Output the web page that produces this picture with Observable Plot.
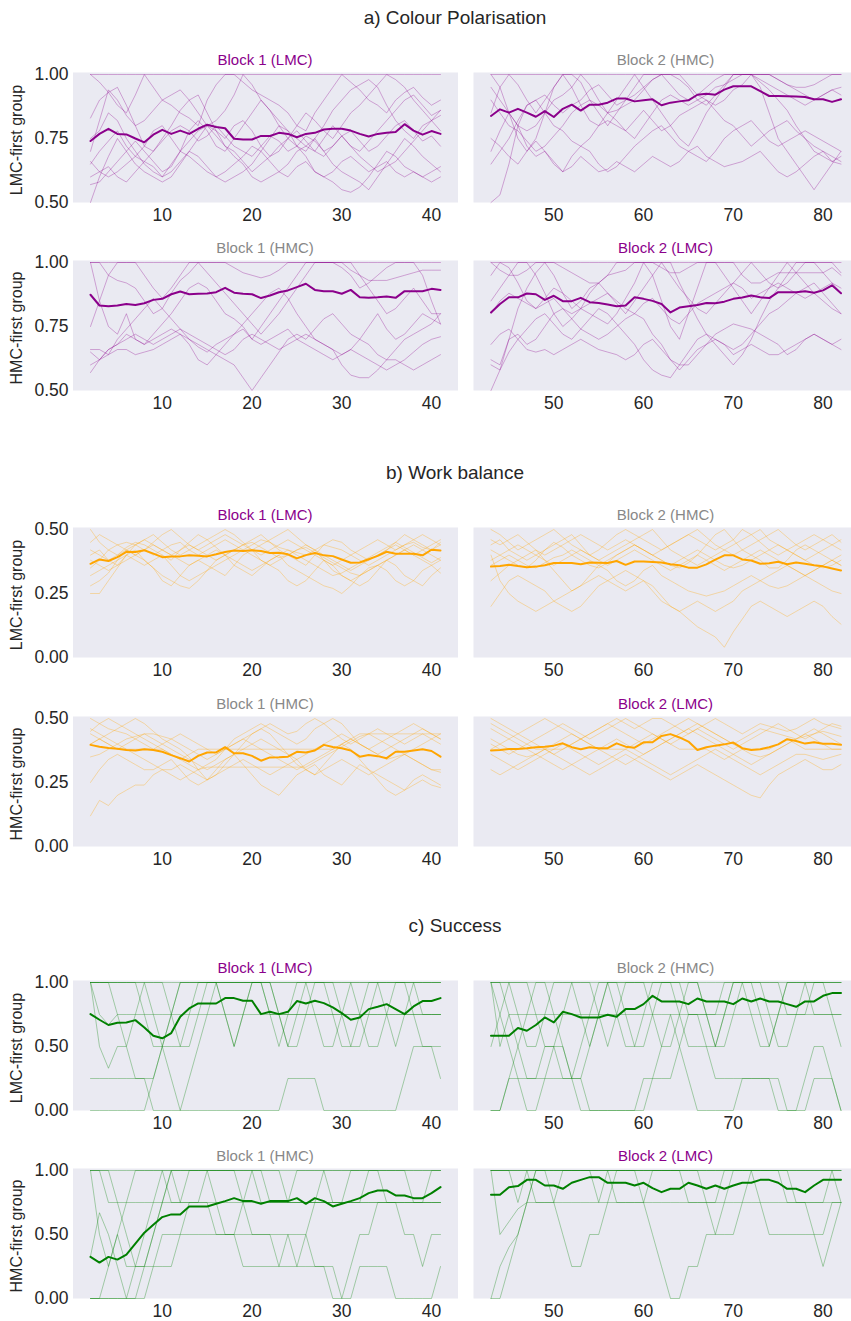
<!DOCTYPE html>
<html><head><meta charset="utf-8">
<script src="https://cdn.jsdelivr.net/npm/d3@7"></script>
<script src="https://cdn.jsdelivr.net/npm/@observablehq/plot@0.6"></script>
<style>
html,body{margin:0;padding:0;background:#fff;overflow:hidden;}
#fig{position:relative;width:851px;height:1321px;overflow:hidden;font-family:"Liberation Sans",Arial,sans-serif;color:#262626;}
.lbl{position:absolute;white-space:nowrap;transform:translate(-50%,-50%);line-height:1;}
.panel{position:absolute;}
</style></head><body><div id="fig"></div>
<script>
// ---------- categories / ticks ----------
const sectionTitles = ["a) Colour Polarisation", "b) Work balance", "c) Success"];
const groupLabels = ["LMC-first group", "HMC-first group"];
const panelTitles = [["Block 1 (LMC)", "Block 2 (HMC)"], ["Block 1 (HMC)", "Block 2 (LMC)"]];
const xTicksBlock1 = [10, 20, 30, 40];
const xTicksBlock2 = [50, 60, 70, 80];
const yTicksPol = [0.5, 0.75, 1];
const yTicksWork = [0, 0.25, 0.5];
const yTicksSucc = [0, 0.5, 1];
const roundsBlock1 = d3.range(2, 42);
const roundsBlock2 = d3.range(43, 83);

// ---------- a) Colour polarisation ----------
const polMeanLmcB1 = [.74,.768,.788,.768,.766,.75,.735,.765,.784,.768, .781,.768,.788,.804,.795,.79,.749,.746,.746,.76, .76,.772,.768,.755,.768,.772,.785,.788,.788,.781, .768,.758,.768,.772,.775,.806,.781,.765,.779,.768];
const polThinLmcB1 = [
[1,1,1,1,1,1,1,1,1,1, 1,1,1,1,1,1,1,1,1,1, 1,1,1,1,1,1,1,1,1,1, 1,1,1,1,1,1,1,1,1,1],
[1,.97,.93,.88,.85,.92,1,.95,.9,.88, .85,.83,.8,.9,.96,1,1,.97,.94,.92, .9,.88,.85,.8,.78,.85,.9,.95,1,.97, .94,.9,.88,.85,.9,.93,.95,.91,.88,.9],
[.83,.9,.93,.95,.88,.8,.72,.7,.75,.8, .86,.9,.92,.85,.78,.75,.8,.82,.78,.72, .68,.7,.75,.8,.85,.82,.78,.75,.8,.85, .88,.92,.96,1,.98,.95,.9,.86,.82,.84],
[.5,.6,.68,.75,.7,.65,.62,.6,.58,.6, .65,.7,.75,.8,.78,.72,.68,.65,.6,.58, .6,.62,.65,.7,.72,.75,.7,.65,.62,.6, .58,.55,.6,.65,.7,.75,.72,.68,.65,.62],
[.66,.62,.6,.62,.65,.68,.72,.78,.8,.75, .7,.68,.65,.62,.6,.58,.6,.62,.65,.7, .75,.8,.78,.72,.68,.62,.6,.58,.55,.54, .56,.6,.65,.7,.68,.64,.62,.6,.62,.64],
[.75,.78,.85,.82,.75,.7,.65,.62,.6,.65, .7,.78,.82,.78,.72,.7,.75,.8,.85,.9, .86,.8,.75,.72,.7,.75,.8,.86,.9,.94, .96,.98,.95,.88,.82,.78,.75,.8,.82,.78],
[.57,.58,.62,.66,.7,.74,.7,.66,.62,.64, .7,.74,.78,.8,.76,.72,.7,.66,.62,.65, .68,.72,.75,.78,.74,.7,.68,.72,.76,.72, .68,.65,.62,.64,.66,.7,.74,.78,.82,.86],
[.7,.82,.94,.9,.84,.8,.82,.86,.9,.92, .94,.9,.85,.8,.82,.86,.92,1,.96,.9, .86,.82,.78,.75,.72,.7,.75,.8,.76,.72, .7,.74,.78,.82,.86,.9,.92,.88,.84,.86],
[.6,.62,.64,.6,.58,.62,.66,.64,.6,.62, .66,.7,.68,.64,.6,.62,.65,.68,.72,.7, .66,.62,.6,.64,.66,.62,.6,.62,.66,.68, .65,.62,.64,.66,.62,.6,.62,.6,.58,.6],
[.65,.7,.74,.78,.72,.68,.66,.7,.74,.78, .8,.78,.74,.76,.8,.76,.72,.7,.68,.72, .76,.74,.7,.72,.76,.74,.7,.72,.76,.78, .74,.7,.72,.76,.8,.82,.78,.74,.76,.72]
];
const polMeanLmcB2 = [.838,.864,.851,.866,.851,.835,.857,.834,.866,.882, .859,.882,.882,.89,.906,.906,.895,.899,.903,.88, .89,.895,.899,.921,.925,.921,.941,.954,.954,.954, .935,.916,.916,.915,.914,.912,.903,.903,.893,.903];
const polThinLmcB2 = [
[1,1,1,1,1,1,1,1,1,1, 1,1,1,1,1,1,1,1,1,1, 1,1,1,1,1,1,1,1,1,1, 1,1,1,1,1,1,1,1,1,1],
[1,.95,.85,.75,.7,.75,.85,.95,1,1, .97,.9,.85,.8,.85,.9,.95,1,1,1, 1,.98,.95,.9,.88,.92,.96,1,1,1, 1,1,.98,.96,.95,.95,.96,.98,1,1],
[.9,.85,.8,.78,.74,.7,.72,.76,.8,.85, .88,.9,.88,.85,.82,.78,.75,.8,.85,.9, .92,.9,.88,.9,.92,.95,.96,.98,1,1, .98,.96,.94,.92,.9,.88,.9,.92,.94,.92],
[.5,.53,.65,.8,.88,.9,.92,.88,.85,.88, .9,.94,.96,.92,.88,.9,.92,.95,.98,1, .96,.92,.9,.92,.95,.98,1,1,1,1, .97,.94,.9,.86,.8,.75,.7,.68,.66,.65],
[.7,.78,.85,.8,.72,.68,.7,.65,.62,.68, .72,.7,.65,.62,.64,.68,.72,.75,.78,.8, .76,.72,.7,.68,.66,.7,.75,.78,.8,.82, .78,.74,.72,.74,.76,.78,.76,.74,.72,.7],
[.75,.72,.68,.65,.7,.74,.7,.66,.62,.64, .68,.65,.62,.63,.66,.64,.62,.65,.68,.66, .64,.66,.7,.72,.68,.66,.64,.65,.66,.68, .7,.66,.62,.6,.62,.65,.68,.7,.66,.68],
[.85,.95,1,.96,.9,.85,.9,.95,1,.95, .88,.82,.8,.85,.9,.95,1,.95,.9,.85, .8,.75,.72,.78,.85,.9,.95,1,1,1, .95,.85,.75,.7,.65,.6,.55,.6,.65,.7],
[.95,.9,.85,.8,.78,.8,.85,.9,.92,.95, 1,.96,.9,.85,.86,.88,.9,.94,.98,1, 1,1,.96,.92,.9,.88,.9,.94,.96,1, 1,1,.98,.96,.94,.92,.9,.92,.94,.95],
[.65,.7,.75,.82,.88,.9,.85,.8,.78,.74, .72,.75,.8,.82,.8,.78,.82,.86,.82,.78, .8,.84,.86,.88,.9,.86,.82,.8,.76,.72, .75,.78,.8,.82,.78,.75,.72,.7,.68,.66]
];
const polMeanHmcB1 = [.874,.832,.829,.832,.838,.834,.841,.854,.858,.876, .887,.876,.878,.879,.884,.901,.882,.878,.876,.861, .871,.884,.891,.904,.917,.893,.888,.888,.878,.893, .864,.862,.864,.867,.862,.888,.888,.888,.897,.893];
const polThinHmcB1 = [
[1,1,1,1,1,1,1,1,1,1, 1,1,1,1,1,1,1,1,1,1, 1,1,1,1,1,1,1,1,1,1, 1,1,1,1,1,1,1,1,1,1],
[1,1,.95,.93,.92,.9,.85,.8,.82,.88, .93,.96,1,1,1,1,.98,.96,.95,.94, .95,.97,1,1,1,1,1,1,1,.97, .95,.93,.93,.93,.94,.95,.96,.97,.97,.97],
[1,.85,.75,.72,.8,.7,.68,.72,.76,.8, .85,.9,.92,.9,.85,.8,.78,.75,.7,.75, .8,.85,.9,.95,1,1,1,1,.98,.95, .9,.92,.95,.98,1,1,1,.95,.85,.76],
[.66,.66,.64,.7,.74,.78,.82,.86,.82,.78, .74,.7,.68,.66,.64,.62,.6,.55,.5,.55, .6,.65,.7,.72,.7,.74,.78,.8,.76,.72, .7,.68,.64,.62,.62,.6,.58,.6,.62,.64],
[.57,.62,.66,.68,.7,.72,.7,.68,.7,.72, .74,.72,.7,.68,.66,.64,.66,.7,.72,.7, .68,.66,.68,.7,.72,.7,.68,.66,.6,.56, .55,.55,.58,.62,.66,.7,.72,.74,.76,.8],
[.6,.62,.66,.68,.72,.7,.68,.7,.72,.74, .72,.7,.67,.65,.68,.7,.72,.74,.7,.68, .7,.72,.74,.7,.68,.66,.64,.62,.64,.66, .64,.62,.6,.58,.6,.62,.65,.68,.7,.71],
[.65,.62,.64,.66,.66,.64,.65,.66,.68,.7, .72,.68,.62,.6,.64,.68,.72,.76,.8,.84, .88,.9,.86,.8,.75,.7,.68,.66,.64,.66, .7,.75,.8,.74,.7,.72,.76,.8,.78,.76],
[.75,.85,.95,1,1,1,.95,.9,.86,.9, .95,1,1,.96,.92,.88,.84,.8,.76,.72, .76,.8,.85,.9,.95,1,1,1,1,1, .95,.9,.85,.8,.82,.86,.9,.85,.8,.8]
];
const polMeanHmcB2 = [.805,.838,.864,.864,.879,.876,.854,.87,.849,.849, .862,.845,.842,.836,.829,.832,.864,.858,.85,.838, .805,.824,.829,.834,.842,.841,.847,.858,.863,.871, .864,.861,.884,.884,.884,.888,.882,.891,.911,.88];
const polThinHmcB2 = [
[1,1,1,1,1,1,1,1,1,1, 1,1,1,1,1,1,1,1,1,1, 1,1,1,1,1,1,1,1,1,1, 1,1,1,1,1,1,1,1,1,1],
[1,.97,.95,.95,.97,1,1,1,.98,.96, .94,.92,.92,.95,1,1,1,1,1,.98, .96,.96,.98,1,1,1,1,1,.95,.92, .92,.94,.96,.96,.96,.96,.96,.96,.98,.95],
[.85,.9,.95,1,1,.95,.88,.8,.75,.78, .82,.88,.92,.95,.96,.97,1,1,.95,.85, .75,.7,.8,.9,1,1,.95,.9,.85,.8, .85,.9,.95,1,.96,.92,.88,.85,.82,.8],
[.6,.58,.7,.72,.68,.7,.75,.8,.82,.78, .74,.72,.7,.72,.75,.78,.8,.78,.72,.68, .62,.6,.6,.64,.68,.72,.74,.76,.75,.74, .72,.7,.68,.64,.66,.7,.72,.7,.68,.7],
[.5,.58,.65,.7,.74,.78,.8,.76,.72,.7, .74,.78,.82,.8,.76,.72,.68,.62,.58,.56, .55,.6,.65,.7,.72,.7,.68,.66,.68,.72, .76,.8,.82,.85,.88,.9,.92,.88,.84,.8],
[.68,.72,.74,.7,.66,.65,.66,.64,.66,.68, .7,.68,.66,.65,.64,.62,.64,.68,.7,.66, .62,.58,.62,.66,.68,.7,.68,.64,.66,.68, .66,.64,.64,.66,.68,.7,.72,.7,.68,.66],
[.62,.6,.7,.82,.9,.96,1,.95,.88,.82, .85,.9,.92,.88,.84,.8,.85,.9,.95,1, 1,.92,.85,.78,.72,.68,.64,.6,.64,.7, .78,.85,.9,.95,1,1,1,.96,.92,.88],
[.95,1,.98,.92,.85,.82,.86,.9,.88,.85, .82,.8,.78,.76,.8,.86,.92,1,1,1, .95,.9,.86,.82,.8,.84,.88,.92,.96,1, .96,.92,.9,.92,.96,1,1,1,1,.96],
[.8,.85,.88,.86,.84,.82,.84,.86,.82,.8, .82,.84,.86,.88,.85,.82,.8,.84,.86,.82, .78,.76,.8,.84,.86,.88,.9,.92,.9,.86, .88,.9,.92,.9,.88,.86,.88,.9,.92,.9]
];

// ---------- b) Work balance ----------
const workMeanLmcB1 = [.366,.383,.377,.392,.413,.412,.419,.406,.392,.395, .395,.399,.397,.395,.403,.412,.418,.416,.419,.416, .408,.409,.403,.387,.4,.408,.399,.396,.383,.37, .371,.384,.397,.413,.405,.405,.405,.399,.421,.418];
const workThinLmcB1 = [
[.5,.45,.42,.4,.43,.45,.44,.42,.4,.38, .42,.45,.48,.46,.43,.4,.42,.44,.46,.48, .45,.42,.4,.38,.36,.4,.44,.46,.45,.42, .4,.38,.4,.42,.45,.48,.46,.44,.42,.45],
[.25,.25,.3,.35,.4,.42,.38,.35,.3,.28, .32,.36,.38,.36,.34,.32,.36,.4,.42,.38, .36,.34,.3,.28,.3,.34,.38,.36,.32,.3, .28,.3,.34,.38,.36,.32,.3,.28,.32,.35],
[.35,.38,.42,.44,.45,.44,.42,.4,.42,.44, .45,.42,.4,.42,.44,.46,.44,.42,.44,.46, .45,.43,.42,.41,.4,.42,.44,.43,.42,.4, .38,.36,.38,.4,.42,.44,.45,.43,.42,.44],
[.28,.3,.33,.38,.42,.4,.38,.35,.32,.3, .28,.27,.3,.34,.38,.4,.36,.34,.32,.35, .38,.4,.36,.34,.32,.3,.28,.27,.25,.28, .32,.35,.36,.34,.3,.28,.3,.34,.36,.33],
[.4,.42,.38,.36,.4,.44,.46,.48,.45,.42, .4,.42,.44,.46,.48,.5,.48,.45,.42,.44, .46,.48,.5,.47,.44,.42,.4,.38,.36,.34, .36,.38,.4,.42,.44,.42,.4,.42,.44,.46],
[.38,.36,.34,.36,.38,.4,.42,.44,.42,.4, .38,.36,.38,.4,.42,.4,.38,.36,.34,.36, .38,.4,.42,.4,.38,.36,.34,.32,.33,.35, .37,.39,.41,.43,.45,.43,.41,.39,.37,.39],
[.45,.48,.46,.44,.42,.4,.42,.45,.48,.5, .47,.44,.42,.44,.46,.48,.46,.44,.42,.4, .42,.44,.46,.44,.42,.4,.38,.36,.38,.4, .42,.44,.46,.44,.42,.44,.46,.48,.46,.44],
[.32,.34,.36,.38,.4,.38,.36,.38,.4,.36, .32,.3,.32,.34,.36,.38,.4,.42,.4,.38, .36,.38,.4,.42,.44,.42,.38,.34,.32,.3, .32,.34,.36,.38,.4,.42,.44,.42,.4,.38],
[.42,.4,.38,.4,.42,.44,.46,.44,.42,.4, .42,.44,.42,.4,.38,.4,.42,.44,.45,.43, .41,.39,.4,.42,.43,.41,.39,.37,.35,.33, .32,.34,.36,.38,.4,.42,.4,.38,.36,.38]
];
const workMeanLmcB2 = [.355,.357,.362,.357,.353,.355,.36,.369,.369,.369, .364,.371,.37,.369,.377,.362,.375,.375,.373,.371, .364,.36,.351,.351,.364,.382,.399,.399,.383,.379, .366,.368,.374,.364,.371,.366,.36,.356,.348,.34];
const workThinLmcB2 = [
[.5,.48,.45,.42,.44,.46,.48,.5,.47,.44, .42,.4,.42,.45,.48,.5,.48,.46,.44,.42, .44,.46,.48,.5,.47,.44,.42,.4,.42,.44, .46,.48,.5,.47,.44,.42,.44,.46,.48,.45],
[.42,.4,.38,.36,.35,.38,.42,.45,.43,.4, .38,.36,.35,.37,.4,.42,.44,.42,.4,.38, .36,.35,.37,.4,.44,.48,.5,.46,.42,.4, .38,.35,.35,.38,.42,.44,.42,.4,.38,.36],
[.2,.25,.3,.32,.3,.28,.26,.22,.2,.18, .2,.24,.28,.3,.32,.34,.32,.3,.28,.24, .2,.18,.15,.12,.1,.08,.04,.1,.15,.2, .22,.2,.18,.16,.18,.2,.22,.2,.16,.13],
[.3,.33,.36,.38,.4,.42,.38,.34,.3,.26, .28,.32,.36,.34,.3,.28,.3,.34,.36,.32, .3,.28,.26,.25,.24,.25,.26,.28,.3,.32, .3,.28,.27,.28,.3,.32,.34,.36,.38,.4],
[.38,.4,.42,.44,.42,.4,.38,.36,.38,.4, .42,.4,.38,.36,.38,.4,.42,.4,.38,.36, .34,.36,.38,.4,.38,.36,.34,.36,.38,.4, .42,.4,.38,.36,.34,.32,.34,.36,.38,.36],
[.4,.3,.25,.22,.2,.18,.2,.22,.24,.26, .28,.3,.32,.3,.28,.26,.28,.3,.26,.22, .2,.18,.2,.22,.2,.18,.2,.22,.26,.28, .3,.32,.34,.36,.34,.32,.3,.28,.26,.25],
[.46,.44,.46,.48,.45,.42,.4,.42,.44,.46, .48,.46,.44,.42,.44,.46,.44,.42,.4,.42, .44,.46,.48,.46,.44,.42,.44,.46,.5,.48, .45,.42,.4,.42,.44,.46,.48,.46,.44,.42],
[.36,.38,.4,.38,.36,.35,.37,.39,.4,.42, .4,.38,.36,.38,.4,.42,.44,.42,.4,.38, .36,.38,.4,.42,.4,.38,.36,.35,.36,.38, .4,.42,.44,.42,.4,.38,.36,.35,.36,.38],
[.44,.46,.42,.4,.38,.4,.42,.44,.46,.48, .44,.4,.38,.4,.42,.44,.46,.48,.5,.46, .42,.4,.38,.36,.38,.4,.42,.44,.46,.48, .5,.46,.44,.42,.4,.38,.4,.42,.44,.46]
];
const workMeanHmcB1 = [.397,.39,.385,.382,.377,.375,.38,.377,.37,.357, .345,.332,.354,.367,.368,.388,.364,.364,.354,.335, .348,.349,.351,.37,.367,.375,.397,.389,.384,.375, .351,.357,.353,.345,.37,.37,.375,.38,.373,.351];
const workThinHmcB1 = [
[.12,.18,.16,.2,.22,.24,.24,.28,.3,.3, .32,.3,.28,.26,.28,.3,.32,.34,.32,.3, .28,.3,.32,.34,.3,.28,.3,.32,.34,.32, .3,.28,.3,.32,.34,.36,.34,.32,.3,.3],
[.5,.48,.46,.45,.44,.42,.4,.38,.4,.42, .44,.42,.4,.38,.36,.38,.4,.42,.44,.46, .48,.46,.44,.45,.48,.5,.48,.45,.42,.4, .42,.44,.46,.44,.42,.4,.42,.44,.42,.44],
[.25,.3,.34,.36,.34,.32,.3,.3,.32,.34, .3,.26,.24,.26,.3,.34,.36,.32,.28,.24, .22,.2,.24,.28,.3,.32,.28,.26,.24,.28, .32,.3,.26,.22,.2,.22,.26,.28,.26,.24],
[.44,.42,.4,.38,.4,.42,.44,.42,.4,.38, .36,.34,.32,.3,.32,.34,.36,.38,.4,.42, .4,.38,.36,.34,.36,.38,.4,.42,.44,.42, .4,.38,.36,.38,.4,.42,.44,.46,.44,.42],
[.4,.42,.4,.38,.38,.38,.38,.38,.38,.36, .34,.36,.38,.38,.38,.38,.38,.38,.38,.38, .38,.38,.38,.38,.38,.38,.38,.38,.4,.42, .44,.44,.44,.44,.44,.44,.44,.44,.44,.44],
[.46,.44,.42,.4,.38,.36,.34,.32,.3,.28, .26,.28,.3,.31,.31,.31,.31,.31,.31,.31, .31,.31,.31,.31,.31,.33,.35,.37,.39,.41, .43,.44,.42,.4,.38,.36,.34,.32,.3,.29],
[.4,.42,.44,.46,.48,.5,.48,.45,.42,.4, .38,.35,.3,.26,.28,.32,.36,.4,.44,.46, .44,.4,.36,.32,.3,.28,.32,.36,.4,.38, .34,.3,.28,.26,.24,.22,.24,.26,.24,.23],
[.35,.36,.38,.4,.42,.43,.44,.44,.43,.42, .4,.38,.36,.34,.36,.38,.4,.42,.4,.38, .36,.34,.32,.3,.32,.34,.36,.38,.4,.42, .4,.38,.36,.34,.35,.36,.38,.4,.42,.4],
[.45,.48,.5,.48,.46,.44,.42,.4,.38,.36, .34,.32,.3,.32,.34,.38,.42,.44,.46,.48, .46,.44,.42,.4,.42,.46,.48,.5,.48,.44, .4,.38,.4,.42,.44,.46,.48,.46,.44,.42]
];
const workMeanHmcB2 = [.375,.377,.381,.381,.384,.388,.39,.394,.403,.388, .38,.388,.384,.384,.403,.39,.386,.407,.407,.432, .439,.426,.41,.377,.388,.394,.399,.406,.384,.377, .38,.388,.399,.419,.412,.402,.407,.401,.401,.397];
const workThinHmcB2 = [
[.5,.48,.46,.44,.46,.48,.5,.48,.46,.44, .42,.44,.46,.48,.5,.48,.46,.48,.5,.5, .48,.46,.44,.46,.48,.5,.48,.46,.44,.46, .48,.47,.46,.45,.46,.48,.5,.48,.47,.46],
[.3,.28,.3,.32,.34,.36,.38,.36,.34,.32, .3,.28,.3,.32,.34,.36,.34,.32,.3,.28, .26,.28,.3,.32,.3,.28,.26,.24,.22,.2, .19,.24,.28,.3,.32,.34,.32,.3,.3,.32],
[.42,.4,.38,.36,.35,.36,.38,.4,.42,.44, .42,.4,.38,.36,.34,.32,.34,.36,.38,.4, .42,.44,.46,.48,.46,.44,.42,.4,.38,.36, .35,.36,.38,.4,.42,.44,.42,.4,.38,.38],
[.46,.44,.42,.4,.38,.36,.34,.32,.3,.32, .34,.36,.38,.4,.42,.4,.38,.36,.38,.4, .42,.44,.46,.44,.42,.4,.38,.36,.34,.32, .34,.36,.38,.4,.42,.44,.46,.44,.42,.4],
[.38,.4,.42,.44,.42,.4,.38,.36,.38,.4, .42,.44,.46,.48,.46,.44,.42,.4,.42,.44, .46,.48,.5,.48,.46,.44,.42,.4,.42,.44, .46,.45,.44,.43,.42,.43,.44,.45,.44,.43],
[.36,.34,.32,.3,.32,.34,.36,.38,.4,.38, .36,.34,.32,.34,.36,.38,.36,.34,.32,.3, .28,.3,.32,.34,.36,.38,.36,.34,.32,.3, .28,.3,.32,.34,.36,.36,.35,.34,.35,.36],
[.48,.46,.44,.42,.4,.42,.44,.46,.48,.46, .44,.42,.44,.46,.48,.5,.48,.46,.44,.42, .4,.42,.44,.46,.44,.42,.4,.38,.4,.42, .44,.46,.48,.46,.44,.42,.44,.46,.48,.47],
[.4,.38,.36,.38,.4,.38,.38,.38,.38,.4, .42,.4,.38,.38,.38,.38,.4,.42,.44,.42, .4,.38,.38,.38,.38,.36,.34,.36,.38,.38, .38,.38,.4,.42,.4,.38,.38,.38,.38,.38]
];

// ---------- c) Success ----------
const succMeanLmcB1 = [.753,.709,.668,.686,.688,.706,.649,.584,.564,.605, .732,.797,.836,.836,.836,.878,.878,.857,.857,.753, .771,.753,.771,.855,.836,.857,.839,.805,.761,.709, .727,.792,.81,.831,.792,.753,.813,.855,.855,.878];
const succThinLmcB1 = [
[1,1,1,1,1,1,1,1,1,1, 1,1,1,1,1,1,1,1,1,1, 1,1,1,1,1,1,1,1,1,1, 1,1,1,1,1,1,1,1,1,1],
[1,.75,.67,.75,.75,.75,.75,.75,.75,.75, .75,.75,.75,.75,.75,.75,.75,.75,.75,.75, .75,.75,.75,.75,.75,.75,.75,.75,.75,.75, .75,.75,.75,.75,.75,.75,.75,.75,.75,.75],
[0,0,0,0,0,0,0,.25,.5,.75, 1,1,1,1,1,1,1,1,1,1, .75,.5,.75,1,1,1,1,1,.75,.5, .5,.75,1,1,1,1,1,1,1,1],
[1,1,1,.75,.5,.25,.25,.25,.5,.75, 1,1,1,1,1,.75,.5,.75,1,1, 1,1,1,1,1,.75,.5,.5,.75,1, 1,1,1,1,1,1,.75,.5,.5,.5],
[1,.5,.33,.5,.5,.75,1,1,1,.75, .5,.5,.75,1,1,1,1,1,1,1, .75,.75,.75,.75,.75,.75,.75,.75,.75,.75, .75,.75,.75,.75,.75,.75,.75,.75,.75,.75],
[.25,.25,.25,.25,.25,.25,.25,0,0,0, 0,0,0,0,0,0,0,0,0,0, 0,0,.25,.25,.25,.25,0,0,0,0, 0,0,0,0,0,.25,.5,.5,.5,.25],
[1,1,1,1,1,1,1,.75,.5,.25, 0,.25,.5,.75,1,1,1,1,1,1, 1,.75,.5,.75,1,1,1,1,1,1, .75,.5,.5,.75,1,1,1,.75,.75,.75],
[1,1,1,1,1,1,.75,.5,.5,.5, .5,.75,1,1,1,.75,.5,.75,1,1, 1,.75,.5,.5,.75,1,1,.75,.5,.5, .75,1,1,.75,.5,.75,1,1,1,1]
];
const succMeanLmcB2 = [.584,.584,.584,.644,.623,.668,.727,.688,.771,.753, .727,.727,.727,.748,.732,.792,.792,.831,.896,.852, .852,.852,.831,.875,.852,.852,.852,.831,.875,.852, .875,.852,.852,.831,.81,.852,.852,.896,.917,.917];
const succThinLmcB2 = [
[1,1,1,1,1,1,1,1,1,1, 1,1,1,1,1,1,1,1,1,1, 1,1,1,1,1,1,1,1,1,1, 1,1,1,1,1,1,1,1,1,1],
[1,.5,.75,.75,.75,.75,.75,.75,.75,.75, .75,.75,.75,.75,.75,.75,.75,.75,.75,.75, .75,.75,.75,.75,.75,.75,.75,.75,.75,.75, .75,.75,.75,.75,.75,.75,.75,.75,.75,.75],
[0,0,.25,.5,.75,1,1,.75,.5,.25, .25,.5,.75,1,1,1,1,1,.75,.5, .5,.75,1,1,.75,.5,.5,.75,1,1, 1,.75,.5,.5,.75,1,1,1,.75,.5],
[0,0,.25,.25,.25,.25,.25,.25,.25,.25, .25,0,0,0,0,0,0,.25,.25,.25, .25,.5,.75,.75,.5,.25,.25,.25,.25,.25, .25,.25,.25,0,0,0,.25,.25,.25,0],
[1,1,.75,.5,.25,.25,.5,.5,.25,.25, .5,.75,1,1,.75,.5,.5,.5,.75,1, 1,.75,.5,.5,.5,.5,.75,1,1,.75, .5,.5,.75,1,1,1,.75,.75,.75,.75],
[1,.75,.5,.25,0,0,.25,.5,.5,.25, 0,0,0,0,0,0,0,0,.25,.5, .75,.5,.25,0,0,0,0,0,.25,.25, .25,.25,0,0,0,.25,.5,.5,.25,0],
[1,1,1,.75,.5,.5,.75,1,1,1, .75,.5,.75,1,1,.75,.5,.75,1,1, 1,1,1,1,.75,.5,.75,1,1,1, .75,.5,.75,1,1,1,1,1,1,1],
[.5,.75,1,1,1,.75,.5,.5,.75,1, 1,1,.75,.5,.75,1,1,1,1,1, 1,1,.75,.75,.75,.75,1,1,1,1, 1,1,1,.75,.75,.75,1,1,1,1]
];
const succMeanHmcB1 = [.325,.281,.325,.304,.343,.429,.514,.577,.636,.657, .657,.719,.719,.719,.74,.761,.784,.761,.761,.74, .761,.761,.761,.784,.74,.784,.761,.719,.74,.761, .784,.823,.844,.844,.805,.805,.784,.784,.823,.87];
const succThinHmcB1 = [
[1,1,1,1,1,1,1,1,1,1, 1,1,1,1,1,1,1,1,1,1, 1,1,1,1,1,1,1,1,1,1, 1,1,1,1,1,1,1,1,1,1],
[0,0,.25,.5,.75,.75,.75,.75,.75,.75, .75,.75,.75,.75,.75,.75,.75,.75,.75,.75, .75,.75,.75,.75,.75,.75,.75,.75,.75,.75, .75,.75,.75,.75,.75,.75,.75,.75,.75,.75],
[0,0,0,0,0,.25,.5,.75,1,1, 1,1,1,1,1,1,1,.75,.5,.5, .5,.5,.5,.5,.5,.75,1,1,1,1, 1,1,1,.75,.75,.75,.75,.75,.75,.75],
[.33,.67,.5,.25,0,0,.25,.25,.5,.5, .5,.75,.75,.75,.5,.5,.5,.5,.5,.5, .5,.25,.5,.25,.5,.25,.25,.25,0,.25, .5,.5,.75,.75,.75,.5,.5,.25,.5,.5],
[1,.5,.25,.5,.25,.25,.25,.5,.75,1, .75,.75,.75,1,1,1,1,1,1,1, .75,.75,.75,.75,.75,.75,.75,.75,.75,.75, .75,.75,.75,.75,.75,.75,.75,.75,.75,.75],
[0,0,0,0,0,0,0,.25,.25,.25, .5,.5,.5,.5,.5,.5,.5,.25,.25,.25, .25,.25,.25,.25,.25,.25,.25,0,0,0, .25,.25,.25,.25,0,0,0,0,0,.25],
[1,1,1,.75,.5,.25,.25,.5,.75,1, 1,1,1,1,.75,.5,.5,.75,1,1, 1,1,.75,.75,.75,.75,.75,.75,.75,1, 1,1,1,1,1,1,1,1,1,1],
[1,1,.75,.75,.75,1,1,1,1,.75, .75,1,1,1,1,1,1,1,1,.75, .75,.75,.75,1,1,1,1,.75,.75,.75, .75,1,1,1,1,1,.75,.75,1,1]
];
const succMeanHmcB2 = [.81,.81,.87,.878,.927,.927,.883,.883,.857,.904, .927,.948,.948,.904,.904,.904,.883,.904,.862,.831, .857,.857,.904,.883,.857,.883,.857,.883,.904,.904, .927,.927,.904,.857,.857,.831,.883,.927,.927,.927];
const succThinHmcB2 = [
[1,1,1,1,1,1,1,1,1,1, 1,1,1,1,1,1,1,1,1,1, 1,1,1,1,1,1,1,1,1,1, 1,1,1,1,1,1,1,1,1,1],
[1,.5,.6,.7,.75,.75,.75,.75,.75,.75, .75,.75,.75,.75,.75,.75,.75,.75,.75,.75, .75,.75,.75,.75,.75,.75,.75,.75,.75,.75, .75,.75,.75,.75,.75,.75,.75,.75,.75,.75],
[0,.25,.4,.5,.75,1,1,.75,.5,.25, .25,.5,.5,.75,1,1,1,1,1,1, 1,1,1,1,1,1,1,1,1,1, 1,1,1,1,1,1,1,1,1,1],
[0,0,.25,.5,.75,1,1,1,1,1, 1,1,1,1,1,1,1,.75,.5,.25, 0,0,.25,.25,.5,.5,.75,1,1,1, 1,1,1,1,1,1,1,1,1,1],
[1,1,1,.75,1,1,1,1,1,1, 1,1,.75,1,1,1,1,1,1,1, 1,1,1,1,.75,.5,.5,.5,.75,1, .75,.5,.5,.5,.5,.5,.5,.5,.75,.75],
[1,1,1,1,1,1,1,1,1,1, 1,1,1,1,1,1,1,1,1,1, 1,1,1,1,1,1,1,1,1,1, 1,1,1,.75,.75,.75,.5,.25,.5,.75],
[1,1,1,1,1,.75,.75,.75,1,1, 1,1,1,1,.75,.75,.75,.75,1,1, 1,1,.75,.75,.75,.75,1,1,1,1, 1,1,1,1,.75,.75,.75,.75,1,.75]
];

// ---------- assembly ----------
const sections = [
  {title: sectionTitles[0], titleY: 17, rowTops: [72, 260], domain: [0.5, 1], ticks: yTicksPol, color: "#8B008B",
   panels: [[[polMeanLmcB1, polThinLmcB1], [polMeanLmcB2, polThinLmcB2]], [[polMeanHmcB1, polThinHmcB1], [polMeanHmcB2, polThinHmcB2]]]},
  {title: sectionTitles[1], titleY: 472, rowTops: [527, 716], domain: [0, 0.5], ticks: yTicksWork, color: "#FFA500",
   panels: [[[workMeanLmcB1, workThinLmcB1], [workMeanLmcB2, workThinLmcB2]], [[workMeanHmcB1, workThinHmcB1], [workMeanHmcB2, workThinHmcB2]]]},
  {title: sectionTitles[2], titleY: 925, rowTops: [980, 1168], domain: [0, 1], ticks: yTicksSucc, color: "#008000",
   panels: [[[succMeanLmcB1, succThinLmcB1], [succMeanLmcB2, succThinLmcB2]], [[succMeanHmcB1, succThinHmcB1], [succMeanHmcB2, succThinHmcB2]]]}
];

const fig = document.getElementById("fig");
const FONT = '"Liberation Sans", Arial, sans-serif';
function addText(txt, x, y, size, color, rotate) {
  const d = document.createElement("div");
  d.className = "lbl";
  d.textContent = txt;
  d.style.left = x + "px"; d.style.top = y + "px";
  d.style.fontSize = size + "px"; d.style.color = color;
  if (rotate) d.style.transform = "translate(-50%,-50%) rotate(-90deg)";
  fig.appendChild(d);
}

const PANEL_H = 130;
function makePanel(mean, thin, col, sec) {
  const left = col === 0;
  const xs = left ? roundsBlock1 : roundsBlock2;
  const rows = [];
  thin.forEach((arr, k) => arr.forEach((v, i) => { if (i < xs.length) rows.push({x: xs[i], y: v, id: k}); }));
  const m = mean.map((v, i) => ({x: xs[i], y: v}));
  const marks = [
    Plot.frame({fill: "#eaeaf2", stroke: "none"}),
    Plot.line(rows, {x: "x", y: "y", z: "id", stroke: sec.color, strokeOpacity: 0.32, strokeWidth: 1}),
    Plot.line(m, {x: "x", y: "y", stroke: sec.color, strokeWidth: 2}),
    Plot.axisX({ticks: left ? xTicksBlock1 : xTicksBlock2, tickSize: 0, tickPadding: 6, label: null})
  ];
  if (left) marks.push(Plot.axisY({ticks: sec.ticks, tickFormat: d3.format(".2f"), tickSize: 0, tickPadding: 4.5, label: null}));
  return Plot.plot({
    width: left ? 460 : 390, height: PANEL_H + 30,
    marginTop: 0, marginBottom: 30,
    marginLeft: left ? 72.5 : 0, marginRight: left ? 2.5 : 5,
    x: {domain: left ? [0.05, 42.95] : [41.05, 83.95]},
    y: {domain: sec.domain, insetTop: 2, axis: left ? undefined : null},
    style: {fontFamily: FONT, fontSize: "17.5px", color: "#262626", background: "transparent", overflow: "visible"},
    marks
  });
}

sections.forEach(sec => {
  addText(sec.title, 455, sec.titleY, 19, "#262626");
  sec.rowTops.forEach((top, r) => {
    addText(groupLabels[r], 17, top + 68, 16, "#262626", true);
    [0, 1].forEach(c => {
      const [mean, thin] = sec.panels[r][c];
      const svg = makePanel(mean, thin, c, sec);
      svg.classList.add("panel");
      svg.style.left = (c === 0 ? 0 : 473) + "px";
      svg.style.top = top + "px";
      svg.style.position = "absolute";
      svg.style.maxWidth = "none";
      fig.appendChild(svg);
      const t = panelTitles[r][c];
      const isLmc = t.includes("LMC");
      addText(t, c === 0 ? 265 : 665.5, top - 13, 15, isLmc ? "#8B008B" : "#888888");
    });
  });
});
</script></body></html>
